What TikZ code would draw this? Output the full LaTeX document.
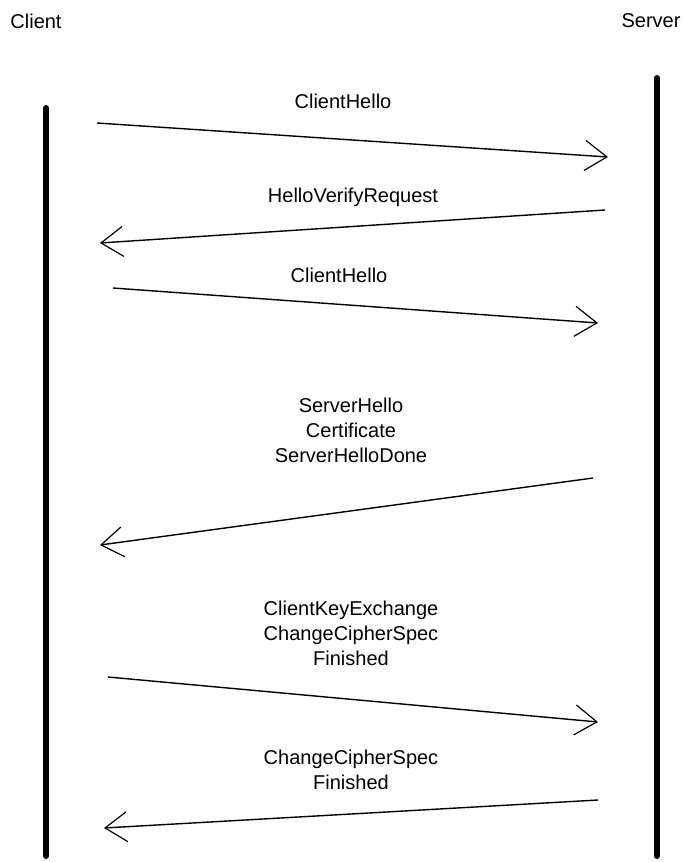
\documentclass[tikz,border=0pt]{standalone}
\usepackage{fontspec}
\setmainfont{Liberation Sans}
\usepackage{tikz}
\usetikzlibrary{arrows.meta}

\begin{document}
\begin{tikzpicture}[x=1pt,y=-1pt]
% Default actions for each node
\tikzstyle{every node}=[font=\fontsize{20}{25}\selectfont, inner sep=0pt, align=center];
\tikzstyle{lifeline} = [draw, line width=6pt, line cap=round]
\tikzstyle{msg} = [draw, line width=1.4pt, -{Straight Barb[length=22pt,width=30pt,line width=1.2pt]}]
\useasboundingbox (0,0) rectangle (683,862);
% Party names
\node (client) at (36,21) {Client};
\node (server) at (651,21) {Server};
% Lifelines
\coordinate (ctop) at (46,108);
\coordinate (cbot) at (46,856);
\coordinate (stop) at (657,78);
\coordinate (sbot) at (657,856);
\draw [lifeline] (ctop) -- (cbot);
\draw [lifeline] (stop) -- (sbot);
% Message end points
\coordinate (m1a) at (97,123);  \coordinate (m1b) at (608,157);
\coordinate (m2a) at (605,210); \coordinate (m2b) at (100,243);
\coordinate (m3a) at (113,288); \coordinate (m3b) at (598,323);
\coordinate (m4a) at (593,478); \coordinate (m4b) at (100,545);
\coordinate (m5a) at (108,677); \coordinate (m5b) at (598,722);
\coordinate (m6a) at (598,800); \coordinate (m6b) at (104,828);
% Message labels
\node (l1) at (343,101) {ClientHello};
\node (l2) at (353,197) {HelloVerifyRequest};
\node (l3) at (339,275) {ClientHello};
\node (l4) at (351,430) {ServerHello\\Certificate\\ServerHelloDone};
\node (l5) at (351,633) {ClientKeyExchange\\ChangeCipherSpec\\Finished};
\node (l6) at (351,770) {ChangeCipherSpec\\Finished};
% Draw messages
\draw [msg] (m1a) -- (m1b);
\draw [msg] (m2a) -- (m2b);
\draw [msg] (m3a) -- (m3b);
\draw [msg] (m4a) -- (m4b);
\draw [msg] (m5a) -- (m5b);
\draw [msg] (m6a) -- (m6b);
\end{tikzpicture}
\end{document}
